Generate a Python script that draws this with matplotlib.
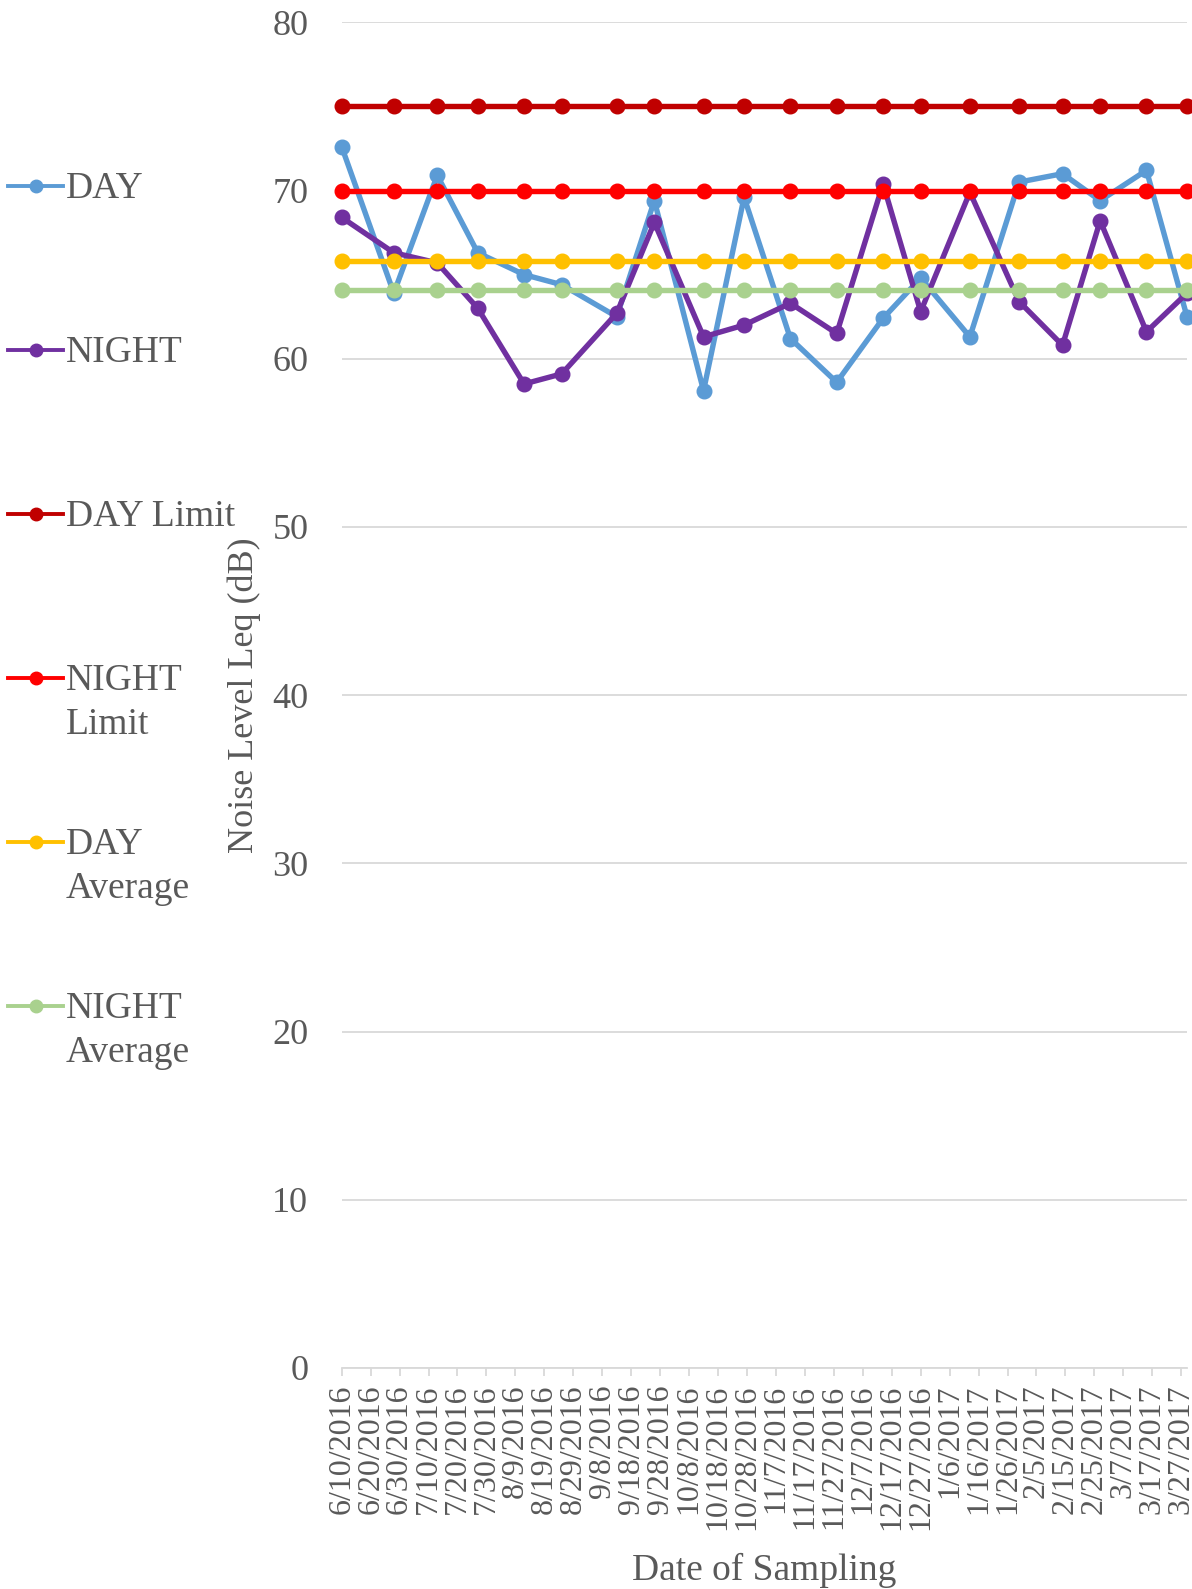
import numpy as np
import pandas as pd
import matplotlib
matplotlib.use("Agg")
import matplotlib.pyplot as plt

plt.rcParams['font.family'] = ['Liberation Serif', 'DejaVu Serif']

# sampling dates
dates = ["2016-06-10", "2016-06-28", "2016-07-13", "2016-07-27", "2016-08-12",
         "2016-08-25", "2016-09-13", "2016-09-26", "2016-10-13", "2016-10-27",
         "2016-11-12", "2016-11-28", "2016-12-14", "2016-12-27", "2017-01-13",
         "2017-01-30", "2017-02-14", "2017-02-27", "2017-03-15", "2017-03-29"]

day = [72.6, 63.9, 70.9, 66.3, 65.0, 64.4, 62.5, 69.4, 58.1, 69.6,
       61.2, 58.6, 62.4, 64.8, 61.3, 70.5, 71.0, 69.4, 71.2, 62.5]
night = [68.4, 66.3, 65.7, 63.0, 58.5, 59.1, 62.7, 68.1, 61.3, 62.0,
         63.3, 61.5, 70.4, 62.8, 69.9, 63.4, 60.8, 68.2, 61.6, 63.9]
day_limit = [75.0] * len(dates)
night_limit = [70.0] * len(dates)
day_avg = [65.8] * len(dates)
night_avg = [64.1] * len(dates)

labels = ["DAY", "NIGHT", "DAY Limit", "NIGHT\nLimit", "DAY\nAverage", "NIGHT\nAverage"]
colors = ["#5B9BD5", "#7030A0", "#C00000", "#FF0000", "#FFC000", "#A9D18E"]

x = pd.to_datetime(dates)
series = [day, night, day_limit, night_limit, day_avg, night_avg]

W, H = 1192, 1589
fig = plt.figure(figsize=(W / 100, H / 100), dpi=100)
ax = fig.add_axes([341.7 / W, 1 - 1368 / H, (1187 - 341.7) / W, (1368 - 22.3) / H])

for s, c in zip(series, colors):
    ax.plot(x, s, color=c, lw=3.9, marker='o', ms=10.5, clip_on=False)

txt = "#595959"
grid = "#D9D9D9"
ax.set_ylim(0, 80)
ax.set_yticks(np.arange(0, 81, 10))
ax.set_xlim(pd.Timestamp("2016-06-10"), pd.Timestamp("2017-03-29"))
ticks = pd.date_range("2016-06-10", "2017-03-27", freq="10D")
ax.set_xticks(ticks)
ax.set_xticklabels([f"{d.month}/{d.day}/{d.year}" for d in ticks], rotation=90)

ax.grid(axis='y', color=grid, lw=1.3)
ax.set_axisbelow(True)
for side in ['left', 'right', 'top']:
    ax.spines[side].set_visible(False)
ax.spines['bottom'].set_color(grid)
ax.spines['bottom'].set_linewidth(1.3)
ax.tick_params(axis='y', length=0, pad=24, labelsize=26, labelcolor=txt)
ax.tick_params(axis='x', length=6, width=1.3, color=grid, pad=6, labelsize=23, labelcolor=txt)

ax.set_ylabel("Noise Level Leq (dB)", fontsize=26, color=txt, labelpad=8)
ax.set_xlabel("Date of Sampling", fontsize=27, color=txt, labelpad=16)

# legend on the left, drawn by hand in pixel coordinates
lg = fig.add_axes([0, 0, 1, 1])
lg.set_xlim(0, W)
lg.set_ylim(H, 0)
lg.axis('off')
lg.patch.set_alpha(0)
y0 = 185.5
step = 164.0
for i, (lab, c) in enumerate(zip(labels, colors)):
    yy = y0 + i * step
    lg.plot([8, 63], [yy, yy], color=c, lw=2.8)
    lg.plot([36], [yy], color=c, marker='o', ms=9)
    for j, line in enumerate(lab.split("\n")):
        lg.text(66, yy + 13 + j * 43.6, line, fontsize=27, color=txt, va='baseline', ha='left')

fig.savefig("out.png", dpi=100)
